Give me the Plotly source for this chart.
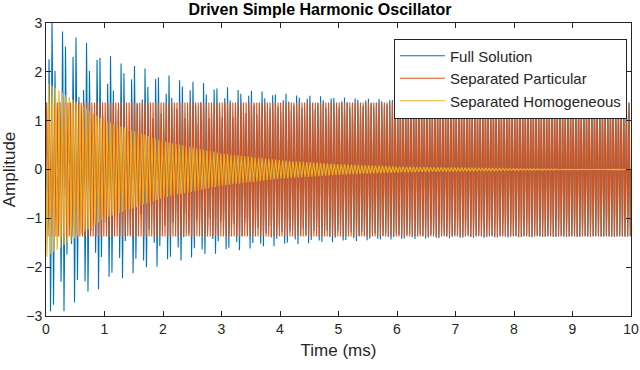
import numpy as np
import plotly.graph_objects as go

# values
drive_amp = 1.37                 # steady amplitude of the particular solution
drive_khz = 22.0                 # drive frequency (kHz), from stroke spacing
natural_khz = 17.0               # homogeneous frequency, beat period ~0.2 ms
env_t = [0, 1, 2, 3, 4, 5, 6, 7, 8, 9, 10]                       # ms
env_amp = [1.8, 1.0, 0.58, 0.33, 0.19, 0.11, 0.06, 0.035, 0.02, 0.011, 0.006]

t = np.linspace(0, 10, 20001)
particular = drive_amp * np.sin(2 * np.pi * drive_khz * t)
homogeneous = -np.interp(t, env_t, env_amp) * np.sin(2 * np.pi * natural_khz * t)
full = particular + homogeneous

fig = go.Figure()
fig.add_trace(go.Scatter(x=t, y=full, mode='lines', name='Full Solution',
                         line=dict(color='#0072BD', width=1.1)))
fig.add_trace(go.Scatter(x=t, y=particular, mode='lines', name='Separated Particular',
                         line=dict(color='#D95319', width=1.1)))
fig.add_trace(go.Scatter(x=t, y=homogeneous, mode='lines', name='Separated Homogeneous',
                         line=dict(color='#EDB120', width=1.1)))

axis = dict(showline=True, linecolor='#262626', linewidth=1, mirror='ticks',
            ticks='inside', ticklen=5, tickcolor='#262626', showgrid=False,
            zeroline=False, automargin=False, tickfont=dict(size=14, color='#262626'))
fig.update_xaxes(range=[0, 10], dtick=1, title=dict(text='Time (ms)', font=dict(size=17, color='#262626'),
                 standoff=8), **axis)
fig.update_yaxes(range=[-3, 3], dtick=1, title=dict(text='Amplitude', font=dict(size=17, color='#262626'),
                 standoff=8), **axis)

fig.update_layout(
    width=640, height=370,
    margin=dict(l=46, r=9, t=23, b=54, autoexpand=False),
    paper_bgcolor='white', plot_bgcolor='white',
    font=dict(family='Liberation Sans, Arial, sans-serif', color='#262626'),
    title=dict(text='<b>Driven Simple Harmonic Oscillator</b>', x=0.5, xanchor='center',
               y=0.975, yanchor='middle', font=dict(size=16, color='#000000')),
    legend=dict(x=0.993, y=0.947, xanchor='right', yanchor='top', bgcolor='white',
                bordercolor='#262626', borderwidth=1, font=dict(size=15),
                itemwidth=45, tracegroupgap=0),
)

fig.write_html("out.html", config={'displayModeBar': False},
               post_script="document.body.style.margin='0px';")
